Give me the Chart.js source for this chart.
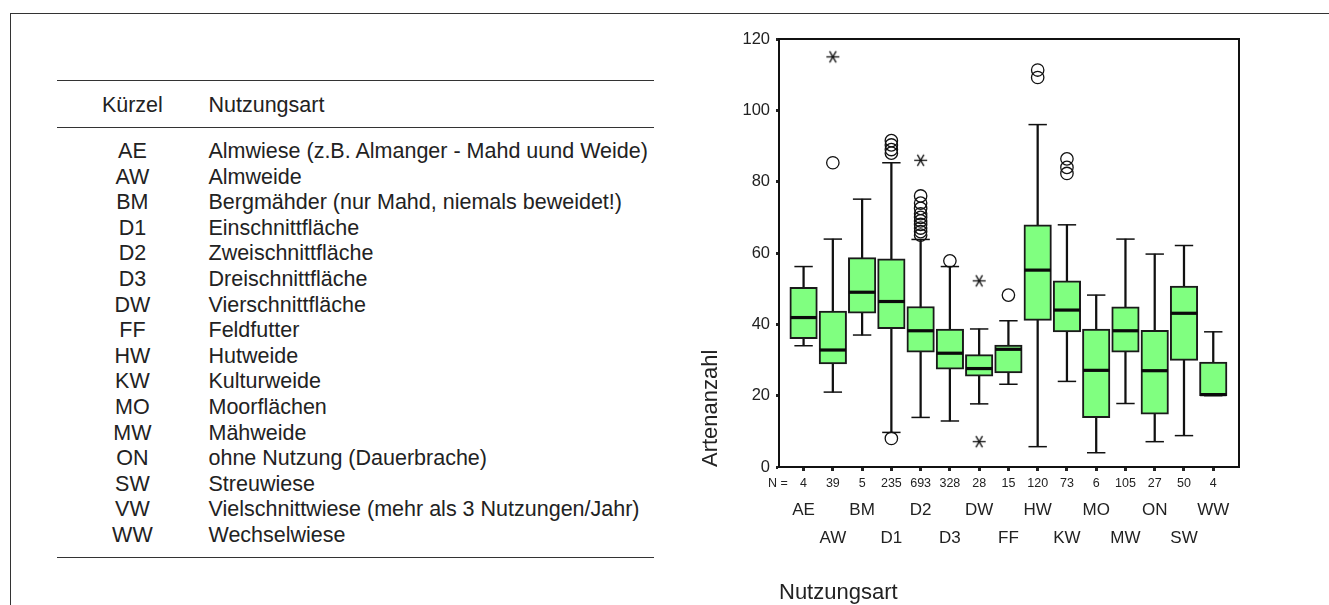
<!DOCTYPE html>
<html>
<head>
<meta charset="utf-8">
<script src="https://cdn.jsdelivr.net/npm/chart.js@4.4.0/dist/chart.umd.min.js"></script>
<style>
html,body{margin:0;padding:0;background:#fff;width:1329px;height:605px;overflow:hidden;font-family:"Liberation Sans",Arial,sans-serif;color:#222;}
#frame{position:absolute;left:9.5px;top:12.5px;width:1330px;height:600px;border-top:1.6px solid #333;border-left:1.6px solid #333;}
.rule{position:absolute;left:57px;width:597px;height:0;border-top:1.5px solid #333;}
.t{position:absolute;font-size:21.5px;line-height:26px;white-space:nowrap;}
.code{width:80px;left:92.4px;text-align:center;}
.desc{left:208.5px;}
#wrap{position:absolute;left:690px;top:0;width:639px;height:605px;}
</style>
</head>
<body>
<div id="frame"></div>
<div id="table"></div>
<div id="wrap"><canvas id="c" width="639" height="605"></canvas></div>
<script>
// ---------- data ----------
const categories = ['AE','AW','BM','D1','D2','D3','DW','FF','HW','KW','MO','MW','ON','SW','WW'];
const nCounts    = [4,39,5,235,693,328,28,15,120,73,6,105,27,50,4];
const whiskerLow = [34,21,37,9.7,13.9,12.9,17.7,23.2,5.7,24,4,17.8,7.1,8.8,20];
const q1         = [36,28.9,43.1,38.8,32.2,27.4,25.5,26.4,41.1,37.9,13.8,32.2,14.8,29.9,20];
const medians    = [41.9,32.8,49,46.4,38.2,31.9,27.6,33,55.2,44,27.1,38.2,27,43.1,20.3];
const q3         = [50.4,43.7,58.7,58.4,45,38.7,31.5,34.2,67.9,52.2,38.7,44.9,38.3,50.7,29.4];
const whiskerHigh= [56.2,63.9,75.1,85.3,63.8,56.2,38.7,41,96,67.9,48.2,63.9,59.7,62.1,37.9];
const circleOutliers = [[],[85.3],[],[88,89,90.3,91.5,8],[65,66,67,68,69,70,71,72.5,74,76],[57.8],[],[48.2],[109.2,111.3],[82.3,84,86.4],[],[],[],[],[]];
const starOutliers   = [[],[115],[],[],[86],[],[52.2,7.1],[],[],[],[],[],[],[],[]];
const yTicks = [0,20,40,60,80,100,120];

const tableCodes = ['AE','AW','BM','D1','D2','D3','DW','FF','HW','KW','MO','MW','ON','SW','VW','WW'];
const tableDescs = ['Almwiese (z.B. Almanger - Mahd uund Weide)','Almweide','Bergmähder (nur Mahd, niemals beweidet!)',
  'Einschnittfläche','Zweischnittfläche','Dreischnittfläche','Vierschnittfläche','Feldfutter','Hutweide',
  'Kulturweide','Moorflächen','Mähweide','ohne Nutzung (Dauerbrache)','Streuwiese',
  'Vielschnittwiese (mehr als 3 Nutzungen/Jahr)','Wechselwiese'];

// ---------- table (HTML text) ----------
const tb = document.getElementById('table');
function addDiv(cls, text, top){ const d=document.createElement('div'); d.className=cls; d.textContent=text; d.style.top=top+'px'; tb.appendChild(d); }
[81,127.7,557.7].forEach(y=>{ const r=document.createElement('div'); r.className='rule'; r.style.top=(y-0.75)+'px'; tb.appendChild(r); });
addDiv('t code','Kürzel',105.3-13);
addDiv('t desc','Nutzungsart',105.3-13);
tableCodes.forEach((c,i)=>{ const cy=151+25.6*i; addDiv('t code',c,cy-13); addDiv('t desc',tableDescs[i],cy-13); });

// ---------- chart ----------
const FF = "'Liberation Sans', Arial, sans-serif";
const pos = categories.map((c,i)=>i+1);
const starImg = (()=>{ const c=document.createElement('canvas'); c.width=15; c.height=15; const g=c.getContext('2d');
  g.strokeStyle='#111'; g.lineWidth=1.3; g.translate(7.5,7.5);
  [0,60,120].forEach(a=>{ const r=a*Math.PI/180; g.beginPath(); g.moveTo(-6.5*Math.cos(r),-6.5*Math.sin(r)); g.lineTo(6.5*Math.cos(r),6.5*Math.sin(r)); g.stroke(); });
  return c; })();

const circlePts = []; circleOutliers.forEach((arr,i)=>arr.forEach(v=>circlePts.push({x:i+1,y:v})));
const starPts = []; starOutliers.forEach((arr,i)=>arr.forEach(v=>starPts.push({x:i+1,y:v})));
const capPts = pos.map((x,i)=>({x, y:whiskerHigh[i]})).concat(pos.map((x,i)=>({x, y:whiskerLow[i]})));

const extras = {
  id:'extras',
  afterDatasetsDraw(chart){
    const {ctx, chartArea:a} = chart;
    ctx.save();
    ctx.strokeStyle='#111'; ctx.lineWidth=2;
    ctx.beginPath(); ctx.moveTo(a.left,a.top); ctx.lineTo(a.right,a.top); ctx.lineTo(a.right,a.bottom); ctx.stroke();
    ctx.fillStyle='#222'; ctx.font='12.5px '+FF; ctx.textAlign='center'; ctx.textBaseline='middle';
    ctx.fillText('N =', a.left-1, a.bottom+17);
    ctx.restore();
  }
};

const xCommon = { type:'linear', position:'bottom', min:0.16, max:15.88, offset:false,
  afterBuildTicks: s => { s.ticks = pos.map(v=>({value:v})); } };

new Chart(document.getElementById('c'), {
  type:'bar',
  data:{ datasets:[
    {type:'scatter', label:'Ausreißer', data:circlePts, pointStyle:'circle', pointRadius:6.2, pointBorderWidth:1.3, pointBorderColor:'#111', pointBackgroundColor:'rgba(0,0,0,0)', order:0, xAxisID:'x', yAxisID:'y'},
    {type:'scatter', label:'Extremwerte', data:starPts, pointStyle:starImg, pointRadius:7, order:0, xAxisID:'x', yAxisID:'y'},
    {type:'scatter', label:'Median', data:medians.map((v,i)=>({x:i+1,y:v})), pointStyle:'line', pointRadius:13.2, pointBorderWidth:3.2, pointBorderColor:'#0a0a0a', order:0, xAxisID:'x', yAxisID:'y'},
    {type:'bar', label:'Box', data:q1.map((v,i)=>({x:i+1,y:[v,q3[i]]})), backgroundColor:'#80ff80', borderColor:'#1a1a1a', borderWidth:2, borderSkipped:false, barThickness:27.5, grouped:false, order:1, xAxisID:'x', yAxisID:'y'},
    {type:'scatter', label:'Whisker-Enden', data:capPts, pointStyle:'line', pointRadius:9.2, pointBorderWidth:1.5, pointBorderColor:'#111', order:2, xAxisID:'x', yAxisID:'y'},
    {type:'bar', label:'Whisker', data:whiskerLow.map((v,i)=>({x:i+1,y:[v,whiskerHigh[i]]})), backgroundColor:'#111', barThickness:1.6, grouped:false, order:3, xAxisID:'x', yAxisID:'y'}
  ]},
  options:{
    responsive:false, animation:false,
    layout:{padding:{left:8, top:39, right:90, bottom:0}},
    plugins:{legend:{display:false}, tooltip:{enabled:false}},
    scales:{
      x: Object.assign({}, xCommon, { weight:0,
        afterFit: s => { s.height = 26; },
        grid:{display:true, drawOnChartArea:false, drawTicks:true, tickLength:4, tickWidth:3, tickColor:'#222', offset:false},
        border:{display:true, width:2, color:'#111'},
        ticks:{autoSkip:false, maxRotation:0, minRotation:0, padding:5.5, color:'#222', font:{family:FF, size:12.5}, callback:(v,i)=>String(nCounts[i])}
      }),
      x2: Object.assign({}, xCommon, { weight:1,
        afterFit: s => { s.height = 112; },
        grid:{display:false}, border:{display:false},
        ticks:{autoSkip:false, maxRotation:0, minRotation:0, padding:-4.5, color:'#222', font:{family:FF, size:17, lineHeight:1.63},
          callback:(v,i)=> i%2===0 ? [categories[i],''] : ['',categories[i]]},
        title:{display:true, text:'Nutzungsart', align:'start', padding:{top:0,bottom:-1}, color:'#222', font:{family:FF, size:22}}
      }),
      y: { type:'linear', position:'left', min:0, max:120,
        afterBuildTicks: s => { s.ticks = yTicks.map(v=>({value:v})); },
        afterFit: s => { s.width = 81; },
        grid:{drawOnChartArea:false, drawTicks:true, tickLength:3, tickWidth:3, tickColor:'#222'},
        border:{display:true, width:2, color:'#111'},
        ticks:{padding:6, color:'#222', font:{family:FF, size:16.5}},
        title:{display:true, text:'Artenanzahl', align:'start', padding:{top:0,bottom:0}, color:'#222', font:{family:FF, size:22}}
      }
    }
  },
  plugins:[extras]
});
</script>
</body>
</html>
